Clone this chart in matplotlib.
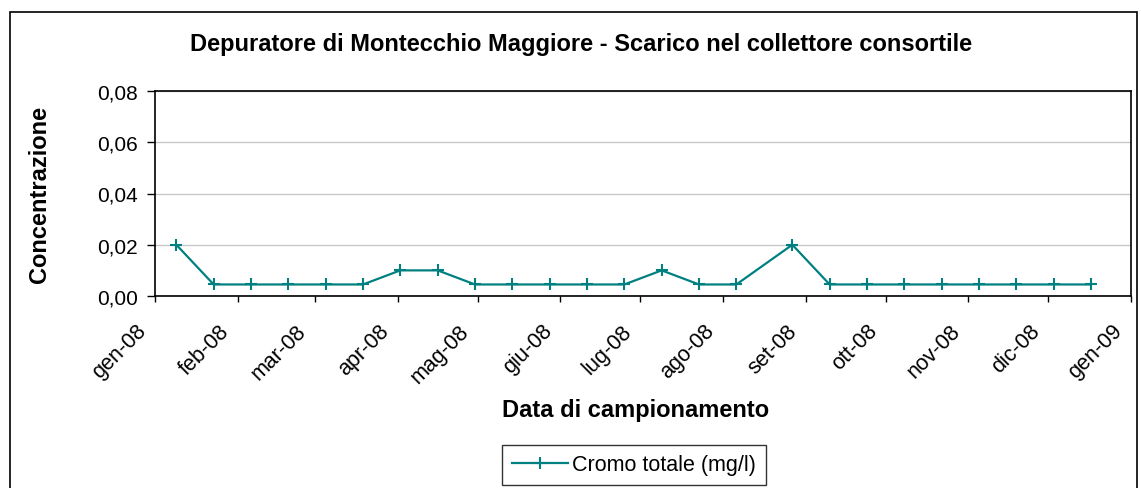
import numpy as np
import matplotlib
matplotlib.use('Agg')
import matplotlib.pyplot as plt
import matplotlib.transforms as mtransforms
from matplotlib.patches import Rectangle
import datetime as dt

plt.rcParams.update({
    "font.family": ["Liberation Sans", "DejaVu Sans"],
})

# campionamenti 2008 (mg/l)
date_campioni = ['2008-01-09', '2008-01-23', '2008-02-06', '2008-02-20', '2008-03-05',
                 '2008-03-19', '2008-04-02', '2008-04-16', '2008-04-30', '2008-05-14',
                 '2008-05-28', '2008-06-11', '2008-06-25', '2008-07-09', '2008-07-23',
                 '2008-08-06', '2008-08-27', '2008-09-10', '2008-09-24', '2008-10-08',
                 '2008-10-22', '2008-11-05', '2008-11-19', '2008-12-03', '2008-12-17']
cromo_totale = [0.02, 0.0045, 0.0045, 0.0045, 0.0045,
                0.0045, 0.01, 0.01, 0.0045, 0.0045,
                0.0045, 0.0045, 0.0045, 0.01, 0.0045,
                0.0045, 0.02, 0.0045, 0.0045, 0.0045,
                0.0045, 0.0045, 0.0045, 0.0045, 0.0045]
mesi = ['gen-08', 'feb-08', 'mar-08', 'apr-08', 'mag-08', 'giu-08', 'lug-08',
        'ago-08', 'set-08', 'ott-08', 'nov-08', 'dic-08', 'gen-09']
y_ticks = [0.0, 0.02, 0.04, 0.06, 0.08]

t = [dt.datetime.strptime(d, '%Y-%m-%d') for d in date_campioni]
tick_mesi = [dt.datetime(2008 + (m // 12), m % 12 + 1, 1) for m in range(len(mesi))]

fig = plt.figure(figsize=(11.41, 4.89), dpi=100)
ax = fig.add_axes([155/1141, 1 - 297/489, (1131 - 155)/1141, (297 - 92)/489])

ax.plot(t, cromo_totale, linestyle='solid', linewidth=1.6, color='#008080',
        marker='+', markersize=9, markeredgewidth=1.5, label='Cromo totale (mg/l)')

ax.set_xlim(tick_mesi[0], tick_mesi[-1])
ax.set_ylim(0, 0.08)
ax.set_yticks(y_ticks)
ax.set_yticklabels([('%.2f' % v).replace('.', ',') for v in y_ticks], fontsize=15)
ax.set_xticks(tick_mesi)
ax.set_xticklabels(mesi, fontsize=15.5, rotation=45, ha='right', rotation_mode='anchor')
ax.tick_params(axis='x', direction='out', length=4.5, width=1, color='black', pad=5)
ax.tick_params(axis='y', direction='out', length=6, width=1, color='black', pad=6.5)
# etichette dei mesi spostate in basso a sinistra
shift = mtransforms.ScaledTranslation(-19/100, -11/100, fig.dpi_scale_trans)
for lab in ax.get_xticklabels():
    lab.set_transform(lab.get_transform() + shift)
ax.grid(axis='y', color='#c8c8c8', linewidth=1)
ax.set_axisbelow(True)
for s in ax.spines.values():
    s.set_color('black')
    s.set_linewidth(1.2)

ax.set_ylabel('Concentrazione', fontsize=17, fontweight='bold')
ax.yaxis.set_label_coords((51 - 155)/976, 0.5)
fig.text(636/1141, 1 - 411/489, 'Data di campionamento', fontsize=17,
         fontweight='bold', ha='center', va='center')
fig.text(581/1141, 1 - 45/489, 'Depuratore di Montecchio Maggiore - Scarico nel collettore consortile',
         fontsize=17, fontweight='bold', ha='center', va='center')

leg = fig.legend(loc='center', bbox_to_anchor=(634/1141, 1 - 466/489), fontsize=15.5,
                 frameon=True, fancybox=False, edgecolor='black', handlelength=2.6,
                 borderpad=0.45, handletextpad=0.2)
leg.get_frame().set_linewidth(1)

# cornice esterna del grafico
fig.patches.append(Rectangle((10/1141, -0.1), (1137 - 10)/1141, 1.1 - 13/489,
                             transform=fig.transFigure, fill=False,
                             edgecolor='black', linewidth=1.2))

fig.savefig('out.png', dpi=100)
